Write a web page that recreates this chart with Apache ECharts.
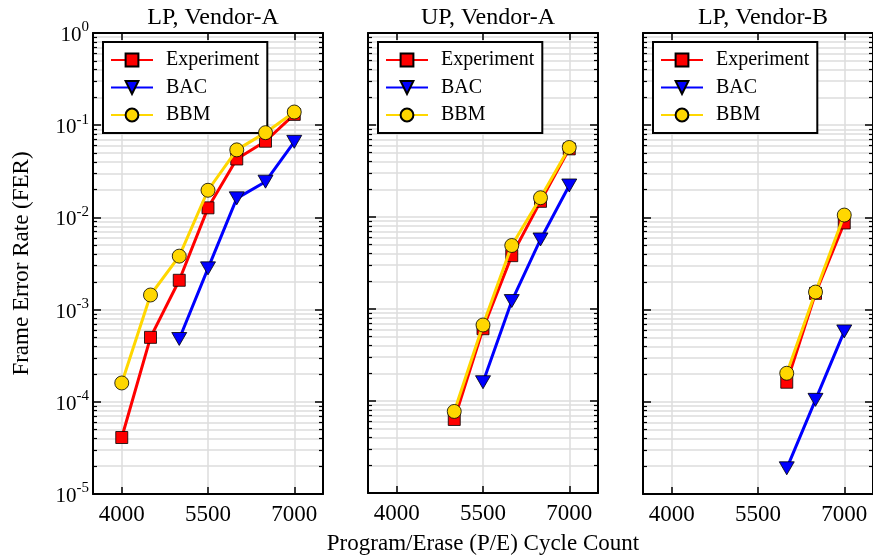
<!DOCTYPE html>
<html><head><meta charset="utf-8">
<script src="https://cdn.jsdelivr.net/npm/echarts@6/dist/echarts.min.js"></script>
<style>html,body{margin:0;padding:0;background:#fff}#c{width:873px;height:560px}</style>
</head><body><div id="c"></div>
<script>
const panelTitles = ['LP, Vendor-A', 'UP, Vendor-A', 'LP, Vendor-B'];
const seriesNames = ['Experiment', 'BAC', 'BBM'];
const cycles = [4000, 4500, 5000, 5500, 6000, 6500, 7000];
const xTicks = [4000, 5500, 7000];
const yMajor = [1e-5, 1e-4, 1e-3, 1e-2, 1e-1, 1];
const yMinorMult = [2, 3, 4, 5, 6, 7, 8, 9];

const exp1 = [4.1e-5, 5.0e-4, 2.08e-3, 1.27e-2, 4.3e-2, 6.7e-2, 1.31e-1];
const bac1 = [null, null, 4.8e-4, 2.8e-3, 1.61e-2, 2.44e-2, 6.6e-2];
const bbm1 = [1.6e-4, 1.44e-3, 3.8e-3, 1.97e-2, 5.4e-2, 8.3e-2, 1.39e-1];

const exp2 = [null, null, 6.3e-5, 6.1e-4, 3.8e-3, 1.48e-2, 5.5e-2];
const bac2 = [null, null, null, 1.6e-4, 1.22e-3, 5.7e-3, 2.2e-2];
const bbm2 = [null, null, 7.7e-5, 6.7e-4, 4.9e-3, 1.62e-2, 5.7e-2];

const exp3 = [null, null, null, null, 1.63e-4, 1.5e-3, 8.7e-3];
const bac3 = [null, null, null, null, 1.9e-5, 1.05e-4, 5.8e-4];
const bbm3 = [null, null, null, null, 2.04e-4, 1.55e-3, 1.06e-2];

const panelData = [[exp1, bac1, bbm1], [exp2, bac2, bbm2], [exp3, bac3, bbm3]];

const FONT = 'Liberation Serif';
const colors = ['#ff0000', '#0000ff', '#ffd700'];
const symbols = ['rect', 'path://M0,0L10,0L5,9Z', 'circle'];
const symSizes = [12, [15, 13], 14];

const yMinor = [];
yMajor.slice(0, -1).forEach(d => yMinorMult.forEach(m => yMinor.push(+(d * m).toPrecision(3))));

const lefts = [93, 368, 643];
const W = 230, TOP = 33, H = 461;
const grid = [], xAxis = [], yAxis = [], series = [], legend = [], title = [];
const gridColor = '#dddddd';

lefts.forEach((L, p) => {
  grid.push({ left: L, top: TOP, width: W, height: H, show: false });
  title.push({ text: panelTitles[p], left: L + W / 2, textAlign: 'center', top: 1,
    textStyle: { fontFamily: FONT, fontSize: 24, fontWeight: 'normal', color: '#000' } });
  const xb = xAxis.length;
  xAxis.push({ type: 'value', gridIndex: p, position: 'bottom', min: 3500, max: 7500,
    axisLine: { show: true, onZero: false, lineStyle: { color: '#000', width: 2 } },
    axisTick: { show: true, inside: true, length: 7, customValues: xTicks, lineStyle: { color: '#000', width: 1.5 } },
    axisLabel: { show: true, customValues: xTicks, margin: 9, fontFamily: FONT, fontSize: 23, color: '#000',
      formatter: v => String(v) },
    splitLine: { show: true, lineStyle: { color: gridColor, width: 1.5 } },
    name: p === 1 ? 'Program/Erase (P/E) Cycle Count' : '', nameLocation: 'middle', nameGap: 39,
    nameTextStyle: { fontFamily: FONT, fontSize: 23, color: '#000' } });
  xAxis.push({ type: 'value', gridIndex: p, position: 'top', min: 3500, max: 7500,
    axisLine: { show: true, onZero: false, lineStyle: { color: '#000', width: 2 } },
    axisTick: { show: true, inside: true, length: 7, customValues: xTicks, lineStyle: { color: '#000', width: 1.5 } },
    axisLabel: { show: false }, splitLine: { show: false } });
  const yb = yAxis.length;
  yAxis.push({ type: 'log', logBase: 10, gridIndex: p, position: 'left', min: 1e-5, max: 1,
    axisLine: { show: true, onZero: false, lineStyle: { color: '#000', width: 2 } },
    axisTick: { show: true, inside: true, length: 8, customValues: yMajor, lineStyle: { color: '#000', width: 1.5 } },
    axisLabel: { show: p === 0, customValues: yMajor, margin: 4, fontFamily: FONT, color: '#000',
      formatter: v => '{b|10}{s|' + Math.round(Math.log10(v)) + '}',
      rich: { b: { fontFamily: FONT, fontSize: 21, lineHeight: 26, verticalAlign: 'bottom' },
              s: { fontFamily: FONT, fontSize: 15, lineHeight: 15, verticalAlign: 'top' } } },
    splitLine: { show: true, lineStyle: { color: gridColor, width: 1.5 } },
    name: p === 0 ? 'Frame Error Rate (FER)' : '', nameLocation: 'middle', nameGap: 60,
    nameTextStyle: { fontFamily: FONT, fontSize: 23, color: '#000' } });
  yAxis.push({ type: 'log', logBase: 10, gridIndex: p, position: 'left', min: 1e-5, max: 1,
    axisLine: { show: false },
    axisTick: { show: true, inside: true, length: 4, customValues: yMinor, lineStyle: { color: '#000', width: 1.2 } },
    axisLabel: { show: false },
    splitLine: { show: true, lineStyle: { color: gridColor, width: 1.5 } } });
  yAxis.push({ type: 'log', logBase: 10, gridIndex: p, position: 'right', min: 1e-5, max: 1,
    axisLine: { show: true, onZero: false, lineStyle: { color: '#000', width: 2 } },
    axisTick: { show: true, inside: true, length: 8, customValues: yMajor, lineStyle: { color: '#000', width: 1.5 } },
    axisLabel: { show: false }, splitLine: { show: false } });
  yAxis.push({ type: 'log', logBase: 10, gridIndex: p, position: 'right', min: 1e-5, max: 1,
    axisLine: { show: false },
    axisTick: { show: true, inside: true, length: 4, customValues: yMinor, lineStyle: { color: '#000', width: 1.2 } },
    axisLabel: { show: false }, splitLine: { show: false } });

  panelData[p].forEach((arr, k) => {
    const data = [];
    arr.forEach((v, i) => { if (v != null) data.push([cycles[i], v]); });
    series.push({ type: 'line', name: seriesNames[k], xAxisIndex: xb, yAxisIndex: yb, data,
      symbol: symbols[k], symbolSize: symSizes[k], showAllSymbol: true,
      lineStyle: { color: colors[k], width: 3 },
      itemStyle: { color: colors[k], borderColor: '#000', borderWidth: 0.8 },
      z: 3 + k, animation: false });
  });

  legend.push({ data: seriesNames, orient: 'vertical', left: L + 10, top: 42,
    backgroundColor: '#fff', borderColor: '#000', borderWidth: 2, borderRadius: 0,
    padding: [8, 8, 8, 7], itemGap: 7.5, itemWidth: 42, itemHeight: 16,
    selectedMode: false,
    textStyle: { fontFamily: FONT, fontSize: 20, color: '#000', padding: [0, 0, 0, 8] } });
});

const chart = echarts.init(document.getElementById('c'), null, { renderer: 'canvas' });
chart.setOption({ animation: false, backgroundColor: '#fff', title, grid, xAxis, yAxis, series, legend });
</script></body></html>
